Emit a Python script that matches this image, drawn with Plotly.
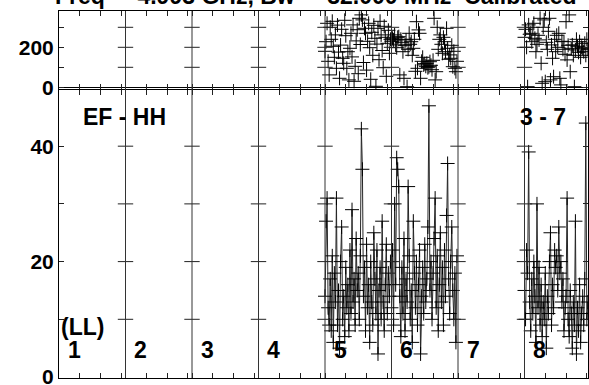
import plotly.graph_objects as go

# ---------------- data ----------------
n_if = 8
n_chan = 64
if_labels = ["1", "2", "3", "4", "5", "6", "7", "8"]
baseline_label = "EF - HH"
right_label = "3 - 7"
pol_label = "(LL)"
title_text = "Freq =  4.993 GHz, Bw =  32.000 MHz  Calibrated"

amp_if5 = [14, 27, 31, 12, 9, 17, 8, 21,
           6, 18, 13, 31, 9, 15, 5, 20,
           26, 10, 14, 7, 19, 12, 16, 8,
           22, 11, 29, 13, 17, 9, 24, 15,
           18, 10, 21, 43, 36, 14, 19, 8,
           23, 12, 16, 6, 20, 13, 9, 25,
           17, 11, 22, 4, 15, 19, 10, 27,
           13, 8, 16, 23, 11, 18, 14, 20]
amp_if6 = [12, 22, 9, 30, 16, 38, 36, 33,
           14, 7, 19, 11, 24, 8, 17, 13,
           33, 21, 10, 15, 6, 27, 18, 12,
           20, 9, 16, 22, 4, 14, 19, 11,
           23, 13, 17, 26, 47, 15, 20, 10,
           18, 24, 31, 12, 21, 8, 16, 25,
           13, 19, 9, 22, 14, 28, 37, 17,
           11, 20, 26, 15, 10, 18, 6, 21]
amp_if8 = [15, 10, 22, 18, 39, 13, 8, 17,
           11, 20, 14, 6, 30, 12, 19, 9,
           16, 7, 13, 10, 18, 5, 14, 11,
           20, 25, 9, 16, 12, 22, 19, 21,
           15, 26, 18, 20, 13, 17, 8, 12,
           14, 31, 10, 7, 15, 11, 5, 13,
           9, 27, 4, 12, 8, 16, 6, 11,
           14, 9, 17, 44, 10, 13, 7, 12]

ph_if5 = [180, 228, 320, 130, 62, 300, 240, 330,
          205, 150, 262, 95, 311, 176, 45, 211,
          290, 145, 120, 335, 258, 95, 178, 37,
          195, 270, 152, 312, 30, 105, 232, 288,
          68, 345, 214, 362, 337, 124, 295, 270,
          86, 230, 320, 198, 40, 275, 160, 310,
          245, 5, 216, 295, 138, 330, 262, 184,
          98, 305, 250, 55, 220, 285, 170, 240]
ph_if6 = [230, 245, 237, 262, 212, 198, 250, 253,
          62, 240, 225, 178, 45, 210, 237, 3,
          190, 270, 215, 228, 160, 195, 240, 80,
          328, 95, 287, 270, 45, 130, 150, 112,
          118, 105, 120, 98, 103, 128, 110, 88,
          135, 345, 37, 78, 300, 190, 240, 262,
          215, 170, 250, 228, 178, 295, 195, 140,
          162, 145, 210, 103, 180, 95, 78, 130]
ph_if8 = [250, 290, 200, 3, 312, 265, 270, 228,
          300, 320, 245, 178, 215, 260, 237, 345,
          120, 20, 300, 337, 28, 225, 190, 280,
          345, 37, 212, 145, 53, 240, 178, 260,
          200, 270, 45, 12, 230, 190, 228, 165,
          328, 137, 210, 362, 78, 195, 212, 160,
          3, 187, 240, 205, 175, 228, 150, 200,
          195, 178, 220, 160, 240, 190, 210, 170]

series = {5: (amp_if5, ph_if5), 6: (amp_if6, ph_if6), 8: (amp_if8, ph_if8)}

amp_ticks = [0, 10, 20, 30, 40]
amp_ticklabels = ["0", "", "20", "", "40"]
ph_ticks = [0, 100, 200, 300]
ph_ticklabels = ["0", "", "200", ""]
chan_ticks = [0, 20, 40, 60]

# ---------------- figure ----------------
FONT = "Liberation Sans, Arial, Helvetica, sans-serif"
W, H = 589, 385
ML, MR, MT, MB = 59, 1, 11, 7
plot_w = W - ML - MR
px_per_if = 66.5
xmax = plot_w / px_per_if

fig = go.Figure()

def chan_x(ifnum, c):
    return (ifnum - 1) + c / n_chan

for ifnum, (amp, ph) in series.items():
    xs = [chan_x(ifnum, c) for c in range(len(amp))]
    fig.add_trace(go.Scatter(
        x=xs, y=amp, xaxis="x", yaxis="y", mode="lines+markers",
        line=dict(color="#262626", width=1),
        marker=dict(symbol="cross-thin", size=10, line=dict(width=1, color="black")),
        showlegend=False, hoverinfo="skip"))
    xs2 = [chan_x(ifnum, c) for c in range(len(ph))]
    fig.add_trace(go.Scatter(
        x=xs2, y=ph, xaxis="x2", yaxis="y2", mode="markers",
        marker=dict(symbol="cross-thin", size=10, line=dict(width=1, color="black")),
        showlegend=False, hoverinfo="skip"))

# tick crosses on IF boundary lines
bx, by = [], []
for k in range(1, n_if + 1):
    for t in amp_ticks[1:]:
        bx.append(k); by.append(t)
fig.add_trace(go.Scatter(x=bx, y=by, xaxis="x", yaxis="y", mode="markers",
                         marker=dict(symbol="line-ew", size=11, line=dict(width=1, color="#222")),
                         cliponaxis=False, showlegend=False, hoverinfo="skip"))
bx2, by2 = [], []
for k in range(1, n_if + 1):
    for t in ph_ticks[1:]:
        bx2.append(k); by2.append(t)
fig.add_trace(go.Scatter(x=bx2, y=by2, xaxis="x2", yaxis="y2", mode="markers",
                         marker=dict(symbol="line-ew", size=11, line=dict(width=1, color="#222")),
                         cliponaxis=False, showlegend=False, hoverinfo="skip"))

# IF boundary lines
shapes = []
for k in range(1, n_if):
    shapes.append(dict(type="line", xref="x", yref="paper", x0=k, x1=k, y0=0, y1=1,
                       line=dict(color="#333", width=1)))

xt = [k + c / n_chan for k in range(n_if) for c in chan_ticks]
xaxis_common = dict(range=[0, xmax], tickvals=xt, showticklabels=False, ticks="inside",
                    ticklen=5, tickcolor="#222", showline=True, linecolor="black", linewidth=1,
                    mirror="ticks", showgrid=False, zeroline=False, automargin=False)

plot_h = H - MT - MB
def pfrac(py):
    return (H - MB - py) / plot_h

top_split = pfrac(89.0)
bot_split = pfrac(89.8)

annotations = [
    dict(text="<b>%s</b>" % title_text, xref="paper", yref="paper",
         x=(53 - ML) / plot_w, y=pfrac(-4), xanchor="left", yanchor="middle",
         showarrow=False, font=dict(family=FONT, size=23, color="black")),
    dict(text="<b>%s</b>" % baseline_label, xref="x", yref="y",
         x=(124 - ML) / px_per_if, y=(377 - 116.7) / 5.775, showarrow=False,
         font=dict(family=FONT, size=23, color="black")),
    dict(text="<b>%s</b>" % right_label, xref="x", yref="y",
         x=(542.5 - ML) / px_per_if, y=(377 - 116.7) / 5.775, showarrow=False,
         font=dict(family=FONT, size=23, color="black")),
    dict(text="<b>%s</b>" % pol_label, xref="x", yref="y",
         x=(82 - ML) / px_per_if, y=(377 - 327) / 5.775, showarrow=False,
         font=dict(family=FONT, size=23, color="black")),
]
for i, lab in enumerate(if_labels):
    annotations.append(dict(text="<b>%s</b>" % lab, xref="x", yref="y",
                            x=i + 15 / px_per_if, y=(377 - 350) / 5.775, showarrow=False,
                            font=dict(family=FONT, size=23, color="black")))

fig.update_layout(
    width=W, height=H, margin=dict(l=ML, r=MR, t=MT, b=MB, pad=0, autoexpand=False),
    paper_bgcolor="white", plot_bgcolor="white",
    font=dict(family=FONT, color="black"),
    xaxis=dict(domain=[0, 1], anchor="y", **xaxis_common),
    xaxis2=dict(domain=[0, 1], anchor="y2", matches="x", **xaxis_common),
    yaxis=dict(domain=[0, bot_split], anchor="x", range=[-0.17, 49.77],
               tickvals=amp_ticks, ticktext=amp_ticklabels, ticks="inside", ticklen=5,
               tickcolor="#222", showline=True, linecolor="black", linewidth=1,
               mirror="ticks", showgrid=False, zeroline=False, automargin=False,
               ticklabeloverflow="allow",
               tickfont=dict(family=FONT, size=21, color="black", weight="bold")),
    yaxis2=dict(domain=[top_split, 1], anchor="x2", range=[-8.5, 381.5],
                tickvals=ph_ticks, ticktext=ph_ticklabels, ticks="inside", ticklen=5,
                tickcolor="#222", showline=True, linecolor="black", linewidth=1,
                mirror="ticks", showgrid=False, zeroline=True, zerolinecolor="black",
                zerolinewidth=1, automargin=False, ticklabeloverflow="allow",
                tickfont=dict(family=FONT, size=21, color="black", weight="bold")),
    shapes=shapes, annotations=annotations,
)

fig.write_html("out.html", config={"displayModeBar": False},
               post_script="document.body.style.margin='0';document.body.style.overflow='hidden';")
